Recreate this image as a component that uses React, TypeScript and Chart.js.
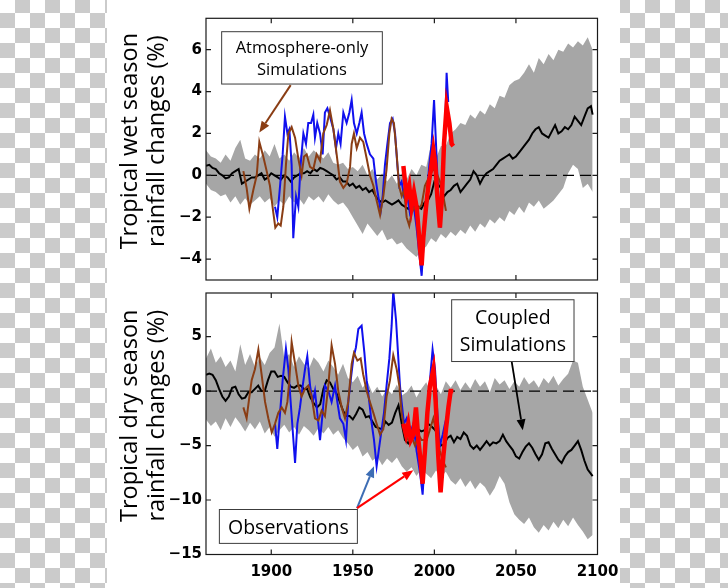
import React, { useEffect, useRef } from "react";
import { Chart, registerables } from "chart.js";

Chart.register(...registerables);

// ---------- axes ----------
const xMin = 1860;
const xMax = 2100;
const xTicks = [1900, 1950, 2000, 2050, 2100];
const wetYTicks = [-4, -2, 0, 2, 4, 6];
const dryYTicks = [-15, -10, -5, 0, 5];

// ---------- coupled-simulation spread (grey band) ----------
const bandYears = [
  1860, 1863, 1866, 1869, 1872, 1875, 1878, 1881, 1884, 1887,
  1890, 1893, 1896, 1899, 1902, 1905, 1908, 1911, 1914, 1917,
  1920, 1923, 1926, 1929, 1932, 1935, 1938, 1941, 1944, 1947,
  1950, 1953, 1956, 1959, 1962, 1965, 1968, 1971, 1974, 1977,
  1980, 1983, 1986, 1989, 1992, 1995, 1998, 2001, 2004, 2007,
  2010, 2013, 2016, 2019, 2022, 2025, 2028, 2031, 2034, 2037,
  2040, 2043, 2046, 2049, 2052, 2055, 2058, 2061, 2064, 2067,
  2070, 2073, 2076, 2079, 2082, 2085, 2088, 2091, 2094, 2097,
];
const wetBandUpper = [
  1.2, 0.9, 0.8, 0.6, 1.0, 0.7, 1.3, 1.7, 0.8, 0.7,
  1.0, 0.8, 1.2, 0.9, 1.5, 0.8, 1.0, 0.7, 1.1, 0.8,
  1.3, 0.9, 1.2, 1.0, 0.8, 1.1, 0.6, 0.5, 0.6, 0.3,
  0.4, 0.2, 0.5, 0.0, 0.3, -0.2, 0.1, -0.3, 0.0, -0.4,
  0.1, -0.2, 0.3, 0.0, 0.5, 0.4, 1.5, 0.8, 1.4, 1.4,
  2.0, 2.2, 2.5, 2.4, 2.9, 2.7, 3.1, 2.9, 3.4, 3.2,
  3.8, 3.7, 4.3, 4.5, 4.6, 4.9, 5.3, 4.9, 5.6, 5.3,
  5.8, 5.5, 6.0, 5.9, 6.3, 6.1, 6.4, 6.2, 6.6, 6.0,
];
const wetBandLower = [
  -0.4, -0.7, -0.8, -1.0, -0.9, -1.3, -1.0, -1.4, -1.1, -1.4,
  -1.2, -1.0, -1.3, -1.1, -1.5, -1.2, -1.4, -1.0, -1.3, -1.1,
  -1.4, -1.0, -1.2, -1.0, -1.3, -0.9, -1.2, -1.4, -1.3, -1.6,
  -2.0, -2.4, -2.8, -2.3, -2.6, -2.9, -2.6, -3.1, -3.0, -3.3,
  -3.2, -3.5, -3.7, -3.9, -3.6, -3.4, -3.0, -3.2, -2.8, -3.0,
  -2.7, -2.9, -2.6, -2.8, -2.4, -2.7, -2.3, -2.5, -2.1, -2.3,
  -2.0, -2.2, -1.7, -1.9, -1.5, -1.8, -1.3, -1.5, -1.2, -1.6,
  -1.4, -1.2, -0.9, -0.6, 0.1, 0.5, 0.3, -0.6, -0.4, -0.8,
];
const dryBandUpper = [
  3.0, 3.9, 2.6, 3.2, 2.2, 2.8, 1.8, 4.3, 2.4, 3.4,
  2.2, 3.1, 2.4, 3.5, 4.0, 6.2, 3.0, 3.4, 2.2, 3.2,
  2.5, 2.0, 3.1, 2.6, 1.8, 2.8, 2.2, 1.5, 2.5, 1.2,
  0.8, 1.4, 0.3, 0.9, -0.2, 0.4, -0.5, 0.2, -0.3, 0.6,
  -0.4, -0.1, 0.5, -0.6, 0.2, 0.8, -0.2, 0.5, -0.3, 0.9,
  0.3, 1.0, 0.1, 0.8, 0.2, 1.1, 0.4, 0.9, -0.1, 1.2,
  0.6, 1.0, 0.2, 0.9, 0.4, 1.3, 0.6, 1.0, 0.3, 1.2,
  0.7, 1.4, 0.5, 1.1, 1.6, 2.8, 2.6, 0.4, -0.8, -2.0,
];
const dryBandLower = [
  -2.6, -3.2, -2.8, -3.6, -2.5, -3.3, -2.4, -3.0, -3.7, -2.9,
  -3.5, -2.8, -3.9, -3.3, -4.2, -3.6, -3.1, -3.8, -3.3, -4.0,
  -3.2, -3.6, -4.1, -3.4, -3.9, -3.3, -4.0, -3.6, -4.3, -4.8,
  -5.4, -5.0, -6.0, -5.6, -6.4, -6.0, -6.8, -6.2, -6.6, -6.1,
  -6.9, -7.4, -7.0, -7.8, -7.2, -7.6, -8.0, -7.3, -7.9, -7.4,
  -8.2, -8.6, -8.0, -8.8, -8.2, -9.0, -8.4, -8.8, -9.6, -8.9,
  -7.8, -8.5, -10.2, -11.3, -11.8, -12.2, -11.6, -12.5, -13.0, -12.3,
  -12.8, -12.0, -12.6, -11.8, -12.4, -11.6, -12.3, -12.9, -13.6, -13.2,
];

// ---------- coupled-simulation mean (black) ----------
const meanYears = [
  1860, 1862, 1864, 1866, 1868, 1870, 1872, 1874, 1876, 1878,
  1880, 1882, 1884, 1886, 1888, 1890, 1892, 1894, 1896, 1898,
  1900, 1902, 1904, 1906, 1908, 1910, 1912, 1914, 1916, 1918,
  1920, 1922, 1924, 1926, 1928, 1930, 1932, 1934, 1936, 1938,
  1940, 1942, 1944, 1946, 1948, 1950, 1952, 1954, 1956, 1958,
  1960, 1962, 1964, 1966, 1968, 1970, 1972, 1974, 1976, 1978,
  1980, 1982, 1984, 1986, 1988, 1990, 1992, 1994, 1996, 1998,
  2000, 2002, 2004, 2006, 2008, 2010, 2012, 2014, 2016, 2018,
  2020, 2022, 2024, 2026, 2028, 2030, 2032, 2034, 2036, 2038,
  2040, 2042, 2044, 2046, 2048, 2050, 2052, 2054, 2056, 2058,
  2060, 2062, 2064, 2066, 2068, 2070, 2072, 2074, 2076, 2078,
  2080, 2082, 2084, 2086, 2088, 2090, 2092, 2094, 2096, 2097,
];
const wetMean = [
  0.45, 0.5, 0.35, 0.3, 0.1, 0.0, -0.15, -0.1, 0.1, 0.2,
  0.3, -0.4, -0.3, -0.2, -0.1, -0.1, 0.0, 0.1, -0.2, -0.1,
  0.1, 0.0, -0.1, -0.2, 0.0, -0.1, -0.3, -0.1, 0.0, 0.1,
  0.1, 0.2, 0.1, 0.3, 0.2, 0.35, 0.3, 0.2, 0.1, 0.0,
  -0.2, -0.1, -0.3, -0.3, -0.5, -0.4, -0.6, -0.5, -0.7, -0.6,
  -0.8, -0.7, -1.0, -1.2, -1.3, -1.2, -1.3, -1.4, -1.3, -1.2,
  -1.4, -1.5, -1.6, -1.4, -1.3, -1.5, -1.6, -1.3, -1.2, -0.9,
  -0.3, -0.4, -0.6, -1.0, -0.8, -0.7, -0.5, -0.4, -0.8, -0.6,
  -0.4, -0.2, 0.2, 0.0, -0.4, -0.1, 0.1, 0.2, 0.3, 0.5,
  0.7, 0.8, 0.9, 1.0, 0.8, 0.9, 1.1, 1.3, 1.5, 1.7,
  2.0, 2.2, 2.3, 2.0, 1.9, 1.8, 2.1, 2.4, 2.0, 2.1,
  2.3, 2.2, 2.4, 2.8, 2.6, 2.4, 2.8, 3.2, 3.3, 2.9,
];
const dryMean = [
  1.5, 1.6, 1.5, 1.0, 0.2, -0.5, -0.9, -0.5, 0.3, 0.4,
  -0.3, -0.7, -0.6, -0.1, -0.1, 0.2, 0.5, 0.0, 0.0, 1.0,
  1.8, 1.8, 1.3, 1.4, 1.3, 0.8, 0.4, 0.3, 0.5, 0.5,
  0.2, 0.2, -0.6, -1.1, -1.5, -1.2, 0.2, 1.0, 0.8, 0.2,
  -0.2, -1.0, -1.8, -2.3, -2.3, -2.6, -2.1, -1.5, -1.7, -2.4,
  -2.3, -2.8, -3.3, -3.4, -3.5, -2.8, -3.1, -2.9, -2.0, -1.3,
  -3.0, -4.5, -4.8, -4.3, -3.8, -3.5, -3.7, -3.6, -3.0, -3.2,
  -3.5, -3.9, -5.0, -4.9, -4.3, -4.1, -4.7, -4.2, -4.4, -3.8,
  -4.1, -5.0, -5.3, -5.0, -5.4, -5.0, -4.6, -5.0, -4.7, -4.8,
  -4.6, -4.0, -4.6, -5.0, -5.4, -6.0, -6.2, -5.6, -5.1, -4.8,
  -5.2, -5.8, -6.3, -5.8, -4.8, -4.7, -5.3, -5.8, -6.3, -6.6,
  -6.0, -5.6, -5.4, -5.0, -4.6, -5.4, -6.4, -7.2, -7.6, -7.8,
];

// ---------- atmosphere-only simulations (brown) ----------
const wetAtmosYears = [
  1882.9, 1884.9, 1886.6, 1889.0, 1891.1, 1892.7, 1895.1, 1897.2, 1899.2, 1901.3,
  1902.5, 1904.3, 1905.8, 1907.4, 1909.0, 1910.5, 1912.5, 1914.6, 1916.6, 1918.6,
  1920.1, 1921.7, 1923.8, 1925.8, 1927.8, 1929.9, 1931.9, 1934.0, 1936.0, 1938.1,
  1940.1, 1942.1, 1944.2, 1946.2, 1948.3, 1949.3, 1950.7, 1952.4, 1954.4, 1956.4,
  1958.5, 1960.5, 1962.6, 1964.6, 1966.7, 1968.7, 1970.7, 1972.4, 1973.8, 1975.2,
  1976.9, 1978.3, 1980.0, 1981.4, 1983.0, 1984.6, 1986.0, 1988.1, 1990.2, 1992.2,
  1994.2, 1997.3, 1999.4, 2001.4, 2003.4, 2005.5, 2007.1,
];
const wetAtmos = [
  0.2, -0.6, -1.6, -0.7, 0.0, 1.6, 0.9, 0.2, -0.5, -1.8,
  -2.5, -2.3, -2.4, -1.5, 0.5, 2.0, 2.3, 1.8, 0.8, 0.0,
  0.9, 1.0, 0.4, 0.3, 1.0, 0.7, 2.0, 2.4, 3.1, 2.2,
  1.0, -0.3, -0.6, -0.4, 0.4, 1.5, 2.0, 1.3, 1.8, 1.6,
  0.8, 0.0, -0.5, -1.2, -1.9, -1.0, 0.3, 2.0, 2.7, 2.5,
  1.0, -0.5, -1.0, -0.7, -2.0, -2.4, -1.8, -1.5, -1.6, -1.4,
  -0.5, 0.0, 0.3, 0.1, -0.3, -1.0, -1.7,
];
const dryAtmosYears = [
  1882.9, 1884.9, 1886.6, 1888.0, 1890.0, 1892.1, 1894.1, 1896.2, 1898.2, 1900.3,
  1902.3, 1904.3, 1906.4, 1908.4, 1909.9, 1911.1, 1912.5, 1914.6, 1916.6, 1918.6,
  1920.7, 1922.7, 1924.8, 1926.8, 1928.9, 1930.9, 1932.9, 1935.0, 1937.0, 1939.1,
  1941.1, 1943.2, 1945.2, 1947.2, 1949.3, 1950.7, 1952.8, 1954.8, 1956.4, 1958.5,
  1960.5, 1962.6, 1964.6, 1966.7, 1968.7, 1970.7, 1972.8, 1974.8, 1976.9, 1978.5,
  1979.9, 1982.0, 1984.0, 1986.1, 1988.1, 1990.2, 1992.2, 1995.3, 1997.3, 1999.4,
  2001.4, 2003.4, 2005.5, 2007.1,
];
const dryAtmos = [
  -1.5, -2.5, -0.5, 1.0, 2.0, 3.8, 1.5, -1.0, -2.5, -3.8,
  -3.0, -2.0, -1.5, -2.0, -1.0, 1.0, 4.5, 2.5, 0.5, -0.5,
  0.2, 0.5, -0.5, -2.5, -2.7, -1.8, -2.3, 0.5, 4.2, 2.5,
  0.0, -1.5, -2.5, -1.0, 2.5, 3.5, 2.8, 3.0, 1.5, 0.0,
  -1.0, -2.0, -3.0, -4.0, -3.5, -0.5, 1.0, 3.3, 2.0, 0.5,
  -2.0, -4.0, -4.5, -4.2, -5.0, -4.0, -4.5, -4.5, -3.5, -2.5,
  -4.0, -5.5, -6.5, -7.0,
];

// ---------- observations: rain gauges (blue) ----------
const wetGaugeYears = [
  1902.3, 1903.7, 1905.4, 1907.0, 1908.4, 1909.9, 1911.1, 1912.5, 1913.5, 1915.2,
  1916.6, 1918.0, 1919.7, 1921.3, 1922.7, 1924.4, 1925.8, 1926.8, 1928.2, 1929.9,
  1931.5, 1932.9, 1934.4, 1936.0, 1938.1, 1939.7, 1941.1, 1942.5, 1944.2, 1946.2,
  1947.9, 1949.3, 1950.7, 1952.4, 1954.0, 1955.4, 1956.9, 1958.5, 1960.5, 1962.6,
  1964.2, 1965.6, 1967.1, 1968.3, 1969.7, 1971.2, 1972.8, 1974.4, 1975.9, 1977.3,
  1978.5, 1979.9, 1981.4, 1983.0, 1985.0, 1987.1, 1989.1, 1990.8, 1992.2, 1993.6,
  1995.3, 1996.9, 1998.3, 1999.8, 2001.0, 2002.4, 2003.8, 2005.5, 2006.7, 2007.5,
  2008.5,
];
const wetGauge = [
  -1.5, -2.0, -0.5, 1.0, 2.8, 2.0, 2.2, 0.5, -3.0, -1.0,
  -1.5, 0.5, 2.0, 1.5, 2.5, 2.5, 2.9, 1.8, 2.5, 2.0,
  1.0, 3.0, 3.2, 2.8, 2.2, 1.3, 2.0, 1.5, 3.0, 2.5,
  3.0, 3.6, 2.5, 2.0, 2.5, 3.0, 2.0, 1.5, 1.0, 0.8,
  -0.3, -1.0, -1.7, -1.0, 0.5, 1.5, 2.5, 2.7, 2.0, 0.5,
  -0.5, -0.3, -1.0, -0.8, -1.8, -1.3, -2.5, -3.8, -4.8, -3.0,
  -1.0, 0.5, 1.5, 3.6, 1.5, -1.0, -2.5, 0.5, 2.5, 4.9,
  3.5,
];
const dryGaugeYears = [
  1902.3, 1903.7, 1905.4, 1907.0, 1909.0, 1910.5, 1911.9, 1913.1, 1914.6, 1916.0,
  1917.6, 1919.3, 1920.7, 1922.1, 1923.8, 1925.4, 1926.8, 1928.2, 1929.9, 1931.5,
  1932.9, 1935.0, 1937.0, 1939.1, 1940.5, 1942.1, 1944.2, 1945.8, 1947.2, 1948.7,
  1950.3, 1951.9, 1953.4, 1955.4, 1957.1, 1958.5, 1960.1, 1961.6, 1963.0, 1964.6,
  1966.3, 1967.7, 1969.1, 1970.7, 1972.4, 1973.8, 1974.8, 1976.5, 1977.9, 1978.9,
  1979.9, 1981.4, 1983.0, 1985.0, 1987.1, 1989.1, 1991.2, 1992.8, 1994.2, 1995.7,
  1997.3, 1998.9, 2000.4, 2001.8, 2003.4, 2005.1, 2006.5, 2007.9,
];
const dryGauge = [
  -3.0, -5.3, -2.0, 1.0, 3.9, 2.0, -1.0, -3.5, -6.6, -3.0,
  -1.5, 0.5, 2.0, 3.2, 0.5, -1.0, 0.0, -2.0, -4.5, -2.0,
  0.5, 0.0, -1.0, 0.5, -1.0, -2.5, -3.0, -4.5, -1.0, 1.0,
  3.0, 4.0, 5.7, 6.0, 3.5, 1.0, -1.0, -3.0, -4.5, -6.9,
  -5.0, -3.5, -2.0, 0.5, 3.0, 6.0, 9.2, 6.5, 3.0, 0.5,
  -1.0, -3.0, -2.5, -4.0, -3.0, -5.5, -7.5, -9.5, -6.0, -2.0,
  1.0, 3.8, 2.0, -2.0, -5.0, -4.0, -3.0, -2.2,
];

// ---------- observations: satellite era (red) ----------
const wetSatYears = [
  1981.0, 1982.0, 1983.0, 1984.6, 1986.0, 1987.5, 1989.1, 1990.2, 1991.2, 1992.2,
  1993.2, 1994.9, 1996.3, 1997.7, 1999.4, 2000.6, 2001.8, 2003.4, 2004.7, 2005.9,
  2007.5, 2009.2, 2010.6, 2011.6,
];
const wetSat = [
  0.45, -0.3, -1.0, -0.5, -1.5, -0.8, -1.5, -2.5, -3.5, -4.3,
  -3.0, -1.5, -0.5, 0.2, 1.2, 0.5, -1.0, -2.5, -1.0, 1.5,
  3.3, 2.5, 1.5, 1.4,
];
const drySatYears = [
  1981.0, 1982.6, 1984.0, 1985.5, 1987.1, 1988.7, 1990.2, 1991.6, 1992.8, 1994.2,
  1995.7, 1997.3, 1999.4, 2000.8, 2002.4, 2003.8, 2005.5, 2007.1, 2008.6, 2010.0,
  2011.6,
];
const drySat = [
  -3.0, -4.0, -3.0, -4.5, -4.0, -1.5, -4.5, -6.5, -8.5, -5.5,
  -2.0, 0.5, 2.0, -1.0, -6.0, -9.3, -6.0, -3.5, -1.5, 0.0,
  0.0,
];

// ---------- styles ----------
const COLORS = {
  band: "#a6a6a6",
  mean: "#000000",
  atmos: "#8a3d14",
  gauge: "#1010ee",
  sat: "#ff0000",
  obsArrowBlue: "#3d6db4",
};
const tickFont = { family: "'DejaVu Sans', sans-serif", size: 15, weight: "bold" as const };
const labelFamily = "'Open Sans', sans-serif";

type Box = { x1: number; x2: number; y1: number; y2: number; lines: string[]; size: number };
type Arrow = { x1: number; y1: number; x2: number; y2: number; color: string; width: number };

const pts = (xs: number[], ys: number[]) => xs.map((x, i) => ({ x, y: ys[i] }));
const fmt = (v: any) => String(v).replace("-", "\u2212");

function drawArrow(ctx: CanvasRenderingContext2D, x1: number, y1: number, x2: number, y2: number, color: string, width: number) {
  const ang = Math.atan2(y2 - y1, x2 - x1);
  const head = 11;
  const hw = 4.5;
  const bx = x2 - head * Math.cos(ang);
  const by = y2 - head * Math.sin(ang);
  ctx.strokeStyle = color;
  ctx.lineWidth = width;
  ctx.setLineDash([]);
  ctx.beginPath();
  ctx.moveTo(x1, y1);
  ctx.lineTo(bx, by);
  ctx.stroke();
  ctx.fillStyle = color;
  ctx.beginPath();
  ctx.moveTo(x2, y2);
  ctx.lineTo(bx + hw * Math.sin(ang), by - hw * Math.cos(ang));
  ctx.lineTo(bx - hw * Math.sin(ang), by + hw * Math.cos(ang));
  ctx.closePath();
  ctx.fill();
}

function panelPlugin(title: string[], boxes: Box[], arrows: Arrow[]) {
  return {
    id: "panelDecor",
    afterDatasetsDraw(chart: any) {
      const { ctx, chartArea: a, scales } = chart;
      const xs = scales.x;
      const ys = scales.y;
      ctx.save();
      // frame
      ctx.strokeStyle = "#1a1a1a";
      ctx.lineWidth = 1.2;
      ctx.setLineDash([]);
      ctx.strokeRect(a.left, a.top, a.right - a.left, a.bottom - a.top);
      // inward tick marks
      ctx.beginPath();
      for (const t of xs.ticks) {
        const px = xs.getPixelForValue(t.value);
        if (px <= a.left + 1 || px >= a.right - 1) continue;
        ctx.moveTo(px, a.bottom);
        ctx.lineTo(px, a.bottom - 5);
        ctx.moveTo(px, a.top);
        ctx.lineTo(px, a.top + 5);
      }
      for (const t of ys.ticks) {
        const py = ys.getPixelForValue(t.value);
        if (py <= a.top + 1 || py >= a.bottom - 1) continue;
        ctx.moveTo(a.left, py);
        ctx.lineTo(a.left + 5, py);
        ctx.moveTo(a.right, py);
        ctx.lineTo(a.right - 5, py);
      }
      ctx.stroke();
      // arrows
      for (const ar of arrows) {
        drawArrow(
          ctx,
          xs.getPixelForValue(ar.x1), ys.getPixelForValue(ar.y1),
          xs.getPixelForValue(ar.x2), ys.getPixelForValue(ar.y2),
          ar.color, ar.width
        );
      }
      // boxes
      for (const b of boxes) {
        const l = xs.getPixelForValue(b.x1);
        const r = xs.getPixelForValue(b.x2);
        const t = ys.getPixelForValue(b.y1);
        const btm = ys.getPixelForValue(b.y2);
        ctx.fillStyle = "#ffffff";
        ctx.fillRect(l, t, r - l, btm - t);
        ctx.strokeStyle = "#3c3c3c";
        ctx.lineWidth = 1;
        ctx.strokeRect(l, t, r - l, btm - t);
        ctx.fillStyle = "#000000";
        ctx.font = `${b.size}px ${labelFamily}`;
        ctx.textAlign = "center";
        ctx.textBaseline = "middle";
        const lh = b.size * 1.36;
        const cx = (l + r) / 2;
        const cy = (t + btm) / 2 + 1.5;
        b.lines.forEach((s, i) => {
          ctx.fillText(s, cx, cy + (i - (b.lines.length - 1) / 2) * lh);
        });
      }
      // y-axis title (two lines, rotated)
      ctx.fillStyle = "#000000";
      ctx.font = `23.5px ${labelFamily}`;
      ctx.textAlign = "center";
      ctx.textBaseline = "middle";
      const cy = (a.top + a.bottom) / 2 - 8;
      title.forEach((s, i) => {
        ctx.save();
        ctx.translate(a.left - 76 + i * 27, cy);
        ctx.rotate(-Math.PI / 2);
        ctx.fillText(s, 0, 0);
        ctx.restore();
      });
      ctx.restore();
    },
  };
}

type PanelConf = {
  title: string[];
  yMin: number;
  yMax: number;
  yTicks: number[];
  bandUpper: number[];
  bandLower: number[];
  mean: number[];
  atmosYears: number[];
  atmos: number[];
  gaugeYears: number[];
  gauge: number[];
  satYears: number[];
  sat: number[];
  showX: boolean;
  padTop: number;
  xAxisH: number;
  boxes: Box[];
  arrows: Arrow[];
};

const wetConf: PanelConf = {
  title: ["Tropical wet season", "rainfall changes (%)"],
  yMin: -5,
  yMax: 7.5,
  yTicks: wetYTicks,
  bandUpper: wetBandUpper,
  bandLower: wetBandLower,
  mean: wetMean,
  atmosYears: wetAtmosYears,
  atmos: wetAtmos,
  gaugeYears: wetGaugeYears,
  gauge: wetGauge,
  satYears: wetSatYears,
  sat: wetSat,
  showX: false,
  padTop: 18.3,
  xAxisH: 7,
  boxes: [{ x1: 1869.6, x2: 1968.1, y1: 6.86, y2: 4.36, lines: ["Atmosphere-only", "Simulations"], size: 16.5 }],
  arrows: [{ x1: 1911.9, y1: 4.31, x2: 1892.7, y2: 2.05, color: COLORS.atmos, width: 2 }],
};

const dryConf: PanelConf = {
  title: ["Tropical dry season", "rainfall changes (%)"],
  yMin: -15,
  yMax: 9,
  yTicks: dryYTicks,
  bandUpper: dryBandUpper,
  bandLower: dryBandLower,
  mean: dryMean,
  atmosYears: dryAtmosYears,
  atmos: dryAtmos,
  gaugeYears: dryGaugeYears,
  gauge: dryGauge,
  satYears: drySatYears,
  sat: drySat,
  showX: true,
  padTop: 6,
  xAxisH: 33.5,
  boxes: [
    { x1: 2010.6, x2: 2085.6, y1: 8.38, y2: 2.71, lines: ["Coupled", "Simulations"], size: 19.5 },
    { x1: 1868.2, x2: 1952.8, y1: -10.87, y2: -13.98, lines: ["Observations"], size: 19.5 },
  ],
  arrows: [
    { x1: 2047.4, y1: 2.71, x2: 2054.2, y2: -3.6, color: "#000000", width: 1.8 },
    { x1: 1952.6, y1: -10.75, x2: 1963.0, y2: -6.9, color: COLORS.obsArrowBlue, width: 2 },
    { x1: 1952.6, y1: -10.75, x2: 1987.1, y2: -7.27, color: COLORS.sat, width: 2.2 },
  ],
};

function makeChart(canvas: HTMLCanvasElement, c: PanelConf) {
  return new Chart(canvas, {
    type: "line",
    data: {
      datasets: [
        { data: pts(bandYears, c.bandUpper), fill: "+1", backgroundColor: COLORS.band, borderColor: "rgba(0,0,0,0)", borderWidth: 0, order: 7 },
        { data: pts(bandYears, c.bandLower), fill: false, borderColor: "rgba(0,0,0,0)", borderWidth: 0, order: 8 },
        { data: [{ x: xMin, y: 0 }, { x: xMax, y: 0 }], borderColor: "#000000", borderWidth: 1.2, borderDash: [11, 6], order: 6 },
        { data: pts(meanYears, c.mean), borderColor: COLORS.mean, borderWidth: 2, order: 5 },
        { data: pts(c.gaugeYears, c.gauge), borderColor: COLORS.gauge, borderWidth: 2, order: 4 },
        { data: pts(c.atmosYears, c.atmos), borderColor: COLORS.atmos, borderWidth: 2, order: 3 },
        { data: pts(c.satYears, c.sat), borderColor: COLORS.sat, borderWidth: 4.5, order: 2 },
      ] as any,
    },
    options: {
      responsive: false,
      animation: false,
      layout: { padding: { top: c.padTop, right: 22.5, left: 0, bottom: 0 } },
      plugins: { legend: { display: false }, tooltip: { enabled: false } },
      elements: { line: { tension: 0 }, point: { radius: 0 } },
      scales: {
        x: {
          type: "linear",
          min: xMin,
          max: xMax,
          grid: { display: false, drawTicks: false },
          border: { display: false },
          ticks: { display: c.showX, padding: 9, font: tickFont, color: "#000000", maxRotation: 0, autoSkip: false, callback: (v: any) => String(v) },
          afterBuildTicks: (s: any) => { s.ticks = xTicks.map((v) => ({ value: v })); },
          afterFit: (s: any) => {
            s.height = c.xAxisH;
            s.paddingLeft = 0;
            s.paddingRight = 0;
            s.paddingTop = 0;
            s.paddingBottom = 0;
          },
        },
        y: {
          type: "linear",
          min: c.yMin,
          max: c.yMax,
          grid: { display: false, drawTicks: false },
          border: { display: false },
          ticks: { padding: 4, font: tickFont, color: "#000000", autoSkip: false, callback: (v: any) => fmt(v) },
          afterBuildTicks: (s: any) => { s.ticks = c.yTicks.map((v) => ({ value: v })); },
          afterFit: (s: any) => {
            s.width = 99;
            s.paddingTop = 0;
            s.paddingBottom = 0;
            s.paddingLeft = 0;
            s.paddingRight = 0;
          },
        },
      },
    } as any,
    plugins: [panelPlugin(c.title, c.boxes, c.arrows)],
  });
}

export default function App() {
  const topRef = useRef<HTMLCanvasElement>(null);
  const botRef = useRef<HTMLCanvasElement>(null);

  useEffect(() => {
    const charts: Chart[] = [];
    if (topRef.current) charts.push(makeChart(topRef.current, wetConf));
    if (botRef.current) charts.push(makeChart(botRef.current, dryConf));
    return () => charts.forEach((ch) => ch.destroy());
  }, []);

  return (
    <div
      style={{
        position: "absolute",
        left: 0,
        top: 0,
        width: 728,
        height: 588,
        overflow: "hidden",
        background: "repeating-conic-gradient(#cbcbcb 0% 25%, #ffffff 0% 50%)",
        backgroundSize: "30px 30px",
        backgroundPosition: "0px -2px",
      }}
    >
      <div style={{ position: "absolute", left: 107, top: 0, width: 513, height: 588, background: "#ffffff" }} />
      <canvas ref={topRef} width={513} height={287} style={{ position: "absolute", left: 107, top: 0, width: 513, height: 287 }} />
      <canvas ref={botRef} width={513} height={301} style={{ position: "absolute", left: 107, top: 287, width: 513, height: 301 }} />
    </div>
  );
}
